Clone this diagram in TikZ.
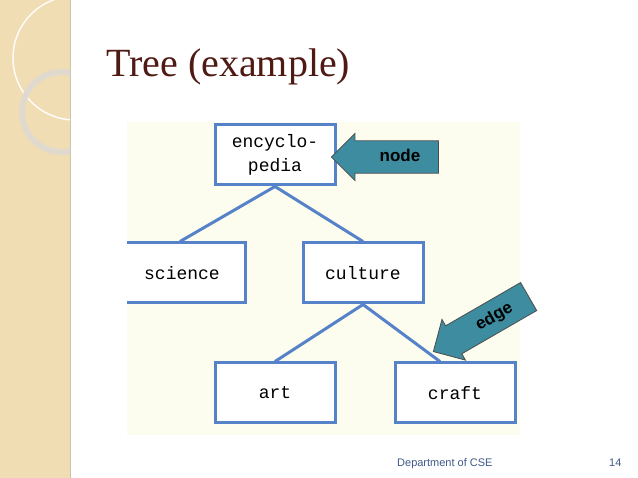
\documentclass[tikz,border=0pt]{standalone}
\usepackage{fontspec}
\setmainfont{Liberation Serif}
\setsansfont{Liberation Sans}
\setmonofont{Liberation Mono}
\usetikzlibrary{shapes.arrows}
\definecolor{strip}{HTML}{F1DDB4}
\definecolor{title}{HTML}{4F1A14}
\definecolor{panel}{HTML}{FDFDEF}
\definecolor{tblue}{HTML}{5582C8}
\definecolor{teal}{HTML}{3D8CA0}
\definecolor{foot}{HTML}{3F5A8A}
\tikzset{
  tbox/.style={draw=tblue, line width=3pt, fill=white, minimum width=120pt, minimum height=60pt, font=\ttfamily\fontsize{18}{24}\selectfont, align=center},
  tedge/.style={draw=tblue, line width=3pt},
  callout/.style={single arrow, draw=black!70, fill=teal, line width=0.8pt, font=\sffamily\bfseries\fontsize{17}{20}\selectfont, single arrow head extend=7pt, single arrow head indent=0pt, inner xsep=3pt, inner ysep=7pt, text height=13pt, text depth=3pt}
}
\begin{document}
\begin{tikzpicture}[x=1pt,y=-1pt]
\useasboundingbox (0,0) rectangle (638,478);
\fill[white] (0,0) rectangle (638,478);
\fill[strip] (0,0) rectangle (70,478);
\draw[strip!70!black!60, line width=0.6pt] (70,0) -- (70,478);
\begin{scope}
\clip (0,0) rectangle (70,478);
\draw[white!90!strip, line width=1.5pt] (75,58) circle (62);
\draw[white!70!gray!70!strip, line width=6pt] (62,112) circle (40);
\end{scope}
\node[anchor=base west, text=title, font=\fontsize{40}{44}\selectfont, inner sep=0] (t) at (106,77) {Tree (example)};
\fill[panel] (127,122) rectangle (520,435);
\node[tbox] (enc) at (275,155) {encyclo-\\pedia};
\node[tbox, minimum width=130pt] (sci) at (180,273) {\hspace{4pt}science};
\node[tbox] (cul) at (363,273) {culture};
\node[tbox] (art) at (275,393) {art};
\node[tbox] (cra) at (455,393) {craft};
\draw[tedge] (enc.south) -- (sci.north);
\draw[tedge] (enc.south) -- (cul.north);
\draw[tedge] (cul.south) -- (art.north);
\draw[tedge] (cul.south) -- ([xshift=-15pt]cra.north);
\fill[white] (100,236) rectangle (126.5,310);
\node[callout, shape border rotate=180, minimum height=107pt, minimum width=47pt] (na) at (393,157) {\hspace{14pt}node};
\node[callout, rotate=30, shape border rotate=180, minimum height=110pt, minimum width=47pt] (ea) at (488,320) {\hspace{14pt}edge};
\node[font=\sffamily\fontsize{11}{13}\selectfont, text=foot, anchor=base west, inner sep=0] (dep) at (397,467) {Department of CSE};
\node[font=\sffamily\fontsize{11}{13}\selectfont, text=foot, anchor=base west, inner sep=0] (pg) at (609,467) {14};
\end{tikzpicture}
\end{document}
